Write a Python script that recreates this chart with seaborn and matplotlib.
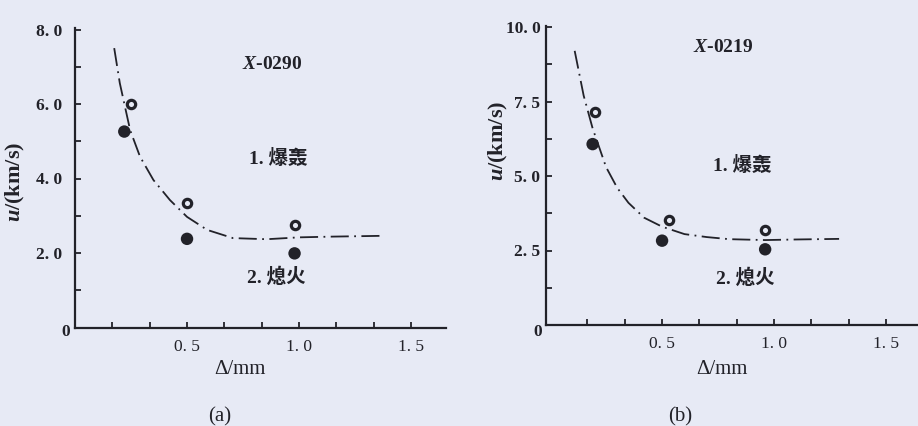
import numpy as np
import pandas as pd
import matplotlib
matplotlib.use("Agg")
import matplotlib.pyplot as plt
from matplotlib.ticker import FixedLocator, NullFormatter
import seaborn as sns

# ---- measured data -------------------------------------------------------
# (a) X-0290
a_open_x = [0.25, 0.50, 0.98]
a_open_y = [6.00, 3.34, 2.75]
a_fill_x = [0.22, 0.50, 0.98]
a_fill_y = [5.26, 2.38, 1.99]
a_curve_x = [0.175, 0.20, 0.246, 0.29, 0.35, 0.424, 0.50, 0.59, 0.705, 0.856, 1.00, 1.15, 1.36]
a_curve_y = [7.50, 6.56, 5.30, 4.59, 3.96, 3.42, 2.97, 2.62, 2.40, 2.37, 2.42, 2.44, 2.46]

# (b) X-0219
b_open_x = [0.20, 0.53, 0.96]
b_open_y = [7.14, 3.52, 3.19]
b_fill_x = [0.19, 0.50, 0.96]
b_fill_y = [6.07, 2.83, 2.54]
b_curve_x = [0.11, 0.15, 0.19, 0.25, 0.30, 0.35, 0.42, 0.50, 0.60, 0.70, 0.80, 0.96, 1.10, 1.29]
b_curve_y = [9.20, 7.70, 6.60, 5.30, 4.60, 4.10, 3.60, 3.30, 3.05, 2.95, 2.88, 2.85, 2.87, 2.89]

x_major = [0.5, 1.0, 1.5]
x_major_labels = ["0. 5", "1. 0", "1. 5"]
x_minor = [k / 6 for k in range(1, 10)]

a_y_major = [2.0, 4.0, 6.0, 8.0]
a_y_labels = ["2. 0", "4. 0", "6. 0", "8. 0"]
a_y_minor = [1.0, 3.0, 5.0, 7.0]

b_y_major = [2.5, 5.0, 7.5, 10.0]
b_y_labels = ["2. 5", "5. 0", "7. 5", "10. 0"]
b_y_minor = [1.25, 3.75, 6.25, 8.75]

label_detonation = "1. 爆轰"
label_quench = "2. 熄火"

# ---- style ---------------------------------------------------------------
BG = "#e7eaf5"
INK = "#222229"

sns.set_style("ticks")
plt.rcParams["font.family"] = ["Liberation Serif", "Noto Sans CJK SC", "DejaVu Sans"]
plt.rcParams["mathtext.fontset"] = "custom"
plt.rcParams["mathtext.rm"] = "Liberation Serif"
plt.rcParams["mathtext.it"] = "Liberation Serif:italic:bold"
plt.rcParams["mathtext.bf"] = "Liberation Serif:bold"
plt.rcParams["text.color"] = INK
plt.rcParams["axes.edgecolor"] = INK
plt.rcParams["xtick.color"] = INK
plt.rcParams["ytick.color"] = INK

W, H = 918, 426
fig = plt.figure(figsize=(W / 100, H / 100), dpi=100, facecolor=BG)

ax_a = fig.add_axes([75 / W, (H - 327.5) / H, 371 / W, 8.05 * 37.25 / H])
ax_b = fig.add_axes([546 / W, (H - 325) / H, 376 / W, 10.05 * 29.8 / H])

DASH = (0, (10, 3, 1, 3))
TICK_FS = 12.5
NOTE_FS = 14


def draw_panel(ax, cx, cy, ox, oy, fx, fy, ylim, xlim, ymaj, ylab, ymin, ypad):
    ax.set_facecolor("none")
    curve = pd.DataFrame({"d": cx, "u": cy})
    sns.lineplot(data=curve, x="d", y="u", ax=ax, color=INK, lw=1.3,
                 sort=False, estimator=None)
    ax.lines[-1].set_linestyle(DASH)
    opn = pd.DataFrame({"d": ox, "u": oy})
    fil = pd.DataFrame({"d": fx, "u": fy})
    sns.scatterplot(data=opn, x="d", y="u", ax=ax, marker="o", s=36,
                    facecolor=BG, edgecolor=INK, linewidth=2.3, zorder=3)
    sns.scatterplot(data=fil, x="d", y="u", ax=ax, marker="o", s=80,
                    color=INK, edgecolor="none", zorder=3)
    ax.set_xlim(*xlim)
    ax.set_ylim(*ylim)
    ax.set_xlabel("")
    ax.set_ylabel("")
    sns.despine(ax=ax)
    for s in ("left", "bottom"):
        ax.spines[s].set_linewidth(1.6)
    ax.xaxis.set_major_locator(FixedLocator(x_major))
    ax.set_xticklabels(x_major_labels)
    ax.xaxis.set_minor_locator(FixedLocator(x_minor))
    ax.yaxis.set_major_locator(FixedLocator(ymaj))
    ax.set_yticklabels(ylab)
    ax.yaxis.set_minor_locator(FixedLocator(ymin))
    ax.xaxis.set_minor_formatter(NullFormatter())
    ax.yaxis.set_minor_formatter(NullFormatter())
    ax.tick_params(which="both", direction="in", length=4, width=1.3)
    ax.tick_params(axis="x", which="major", pad=8, labelsize=TICK_FS)
    ax.tick_params(axis="y", which="major", pad=ypad, labelsize=TICK_FS)
    for t in ax.get_yticklabels():
        t.set_fontweight("bold")


draw_panel(ax_a, a_curve_x, a_curve_y, a_open_x, a_open_y, a_fill_x, a_fill_y,
           (0, 8.05), (0, 1.656), a_y_major, a_y_labels, a_y_minor, 9)
draw_panel(ax_b, b_curve_x, b_curve_y, b_open_x, b_open_y, b_fill_x, b_fill_y,
           (0, 10.05), (-0.018, 1.66), b_y_major, b_y_labels, b_y_minor, 4)

# origin labels
ax_a.annotate("0", xy=(0, 0), xytext=(-6.5, -3.5), textcoords="offset points",
              ha="center", va="center", fontsize=TICK_FS, fontweight="bold")
ax_b.annotate("0", xy=(-0.018, 0), xytext=(-6, -5), textcoords="offset points",
              ha="center", va="center", fontsize=TICK_FS, fontweight="bold")

# in-plot annotations
ax_a.text(0.88, 7.07, "$X$-0290", ha="center", va="center", fontsize=NOTE_FS,
          fontweight="bold")
ax_a.text(0.905, 4.55, label_detonation, ha="center", va="center", fontsize=NOTE_FS,
          fontweight="bold")
ax_a.text(0.90, 1.36, label_quench, ha="center", va="center", fontsize=NOTE_FS,
          fontweight="bold")

ax_b.text(0.772, 9.30, "$X$-0219", ha="center", va="center", fontsize=NOTE_FS,
          fontweight="bold")
ax_b.text(0.857, 5.34, label_detonation, ha="center", va="center", fontsize=NOTE_FS,
          fontweight="bold")
ax_b.text(0.87, 1.58, label_quench, ha="center", va="center", fontsize=NOTE_FS,
          fontweight="bold")

# axis titles and captions
for xc, yc in ((15, 182), (498, 141)):
    fig.text(xc / W, 1 - yc / H, "$u$/(km/s)", rotation=90, ha="center",
             va="center", fontsize=16, fontweight="bold")
for xc in (240, 722):
    fig.text(xc / W, 1 - 370 / H, "Δ/mm", ha="center", va="center", fontsize=15)
fig.text(220 / W, 1 - 417 / H, "(a)", ha="center", va="center", fontsize=15)
fig.text(680 / W, 1 - 417 / H, "(b)", ha="center", va="center", fontsize=15)

fig.savefig("out.png", dpi=100, facecolor=BG)
